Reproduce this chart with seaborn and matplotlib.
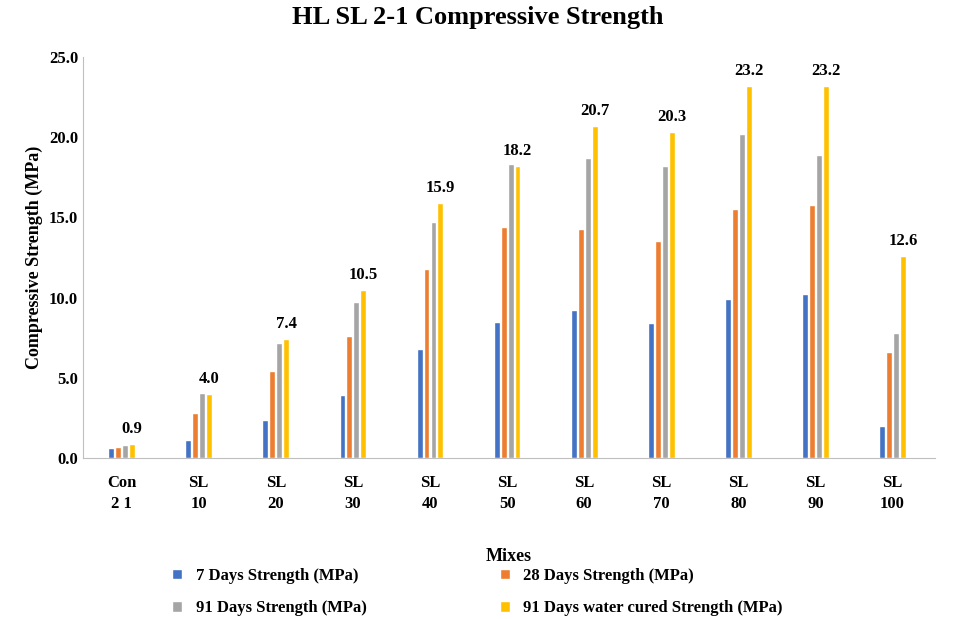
import matplotlib
matplotlib.use('agg')
import matplotlib.pyplot as plt
import seaborn as sns
import pandas as pd

mixes = ['Con\n2 1', 'SL\n10', 'SL\n20', 'SL\n30', 'SL\n40', 'SL\n50', 'SL\n60', 'SL\n70', 'SL\n80', 'SL\n90', 'SL\n100']
d7 = [0.6, 1.1, 2.4, 3.9, 6.8, 8.5, 9.2, 8.4, 9.9, 10.2, 2.0]
d28 = [0.7, 2.8, 5.4, 7.6, 11.8, 14.4, 14.3, 13.5, 15.5, 15.8, 6.6]
d91 = [0.8, 4.05, 7.2, 9.7, 14.7, 18.3, 18.7, 18.2, 20.2, 18.9, 7.8]
wc = [0.9, 4.0, 7.4, 10.5, 15.9, 18.2, 20.7, 20.3, 23.2, 23.2, 12.6]
series = ['7 Days Strength (MPa)', '28 Days Strength (MPa)',
          '91 Days Strength (MPa)', '91 Days water cured Strength (MPa)']
colors = ['#4472C4', '#ED7D31', '#A5A5A5', '#FFC000']

rows = []
for name, vals in zip(series, [d7, d28, d91, wc]):
    for m, v in zip(mixes, vals):
        rows.append({'Mix': m, 'Series': name, 'Value': v})
df = pd.DataFrame(rows)

sns.set_style('white')
plt.rcParams['font.family'] = ['Liberation Serif', 'DejaVu Serif']
plt.rcParams['font.weight'] = 'bold'
plt.rcParams['text.color'] = 'black'
plt.rcParams['axes.labelcolor'] = 'black'
plt.rcParams['xtick.color'] = 'black'
plt.rcParams['ytick.color'] = 'black'

fig = plt.figure(figsize=(9.55, 6.19), dpi=100)
ax = fig.add_axes([0.087, 0.26, 0.892, 0.648])
sns.barplot(data=df, x='Mix', y='Value', hue='Series', palette=colors,
            saturation=1, width=0.36, gap=0.15, ax=ax, legend=True)

ax.bar_label(ax.containers[3], fmt='%.1f', padding=5, fontsize=12, fontweight='bold')
ax.set_ylim(0, 25)
ax.set_yticks([0, 5, 10, 15, 20, 25])
ax.set_yticklabels(['%.1f' % t for t in [0, 5, 10, 15, 20, 25]], fontsize=12, fontweight='bold')
ax.set_xticks(range(len(mixes)))
ax.set_xticklabels(mixes, fontsize=12, fontweight='bold', linespacing=1.4)
ax.tick_params(axis='x', length=0, pad=12)
ax.tick_params(axis='y', length=0)
ax.set_xlim(-0.5, len(mixes) - 0.45)
ax.set_xlabel('Mixes', fontsize=13, fontweight='bold', labelpad=26)
ax.set_ylabel('Compressive Strength (MPa)', fontsize=13, fontweight='bold')
for s in ['top', 'right']:
    ax.spines[s].set_visible(False)
for s in ['left', 'bottom']:
    ax.spines[s].set_color('#bfbfbf')
fig.suptitle('HL SL 2-1 Compressive Strength', fontsize=19, fontweight='bold', y=0.99)

h, l = ax.get_legend_handles_labels()
ax.legend_.remove()
order = [0, 2, 1, 3]
fig.legend([h[i] for i in order], [l[i] for i in order], loc='lower center', ncol=2,
           frameon=False, bbox_to_anchor=(0.5, -0.02), columnspacing=8,
           handlelength=0.6, handleheight=0.6, labelspacing=1.0,
           prop={'weight': 'bold', 'size': 12})
fig.savefig('out.png', dpi=100)
